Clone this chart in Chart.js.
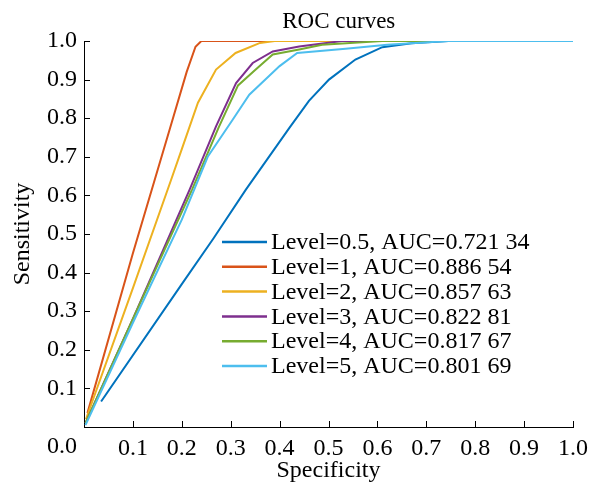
<!DOCTYPE html>
<html><head><meta charset="utf-8">
<script src="https://cdn.jsdelivr.net/npm/chart.js@4/dist/chart.umd.min.js"></script>
<style>html,body{margin:0;padding:0;background:#fff;}</style>
</head><body>
<canvas id="c" width="595" height="487"></canvas>
<script>
// Series labels
const seriesLabels = [
  'Level=0.5, AUC=0.721 34',
  'Level=1, AUC=0.886 54',
  'Level=2, AUC=0.857 63',
  'Level=3, AUC=0.822 81',
  'Level=4, AUC=0.817 67',
  'Level=5, AUC=0.801 69'
];
const seriesColors = ['#0072BD', '#D95319', '#EDB120', '#7E2F8E', '#77AC30', '#4DBEEE'];

// Specificity (x) and Sensitivity (y) values per series
const lvl05X = [0.035, 0.2, 0.265, 0.331, 0.42, 0.46, 0.501, 0.555, 0.61, 0.67, 0.745, 1.0];
const lvl05Y = [0.066, 0.37, 0.489, 0.615, 0.775, 0.845, 0.9, 0.952, 0.984, 0.994, 1.0, 1.0];
const lvl1X = [0.007, 0.1, 0.175, 0.21, 0.228, 0.24, 1.0];
const lvl1Y = [0.036, 0.45, 0.77, 0.92, 0.985, 1.0, 1.0];
const lvl2X = [0.004, 0.1, 0.178, 0.2, 0.233, 0.27, 0.31, 0.36, 0.39, 1.0];
const lvl2Y = [0.02, 0.36, 0.64, 0.72, 0.84, 0.926, 0.969, 0.995, 1.0, 1.0];
const lvl3X = [0.003, 0.1, 0.216, 0.27, 0.311, 0.345, 0.386, 0.44, 0.528, 1.0];
const lvl3Y = [0.01, 0.28, 0.615, 0.779, 0.891, 0.943, 0.973, 0.986, 1.0, 1.0];
const lvl4X = [0.003, 0.1, 0.221, 0.275, 0.315, 0.35, 0.386, 0.44, 0.487, 0.61, 1.0];
const lvl4Y = [0.01, 0.28, 0.615, 0.775, 0.885, 0.925, 0.965, 0.978, 0.99, 1.0, 1.0];
const lvl5X = [0.003, 0.1, 0.2, 0.253, 0.304, 0.338, 0.4, 0.436, 0.535, 0.62, 0.745, 1.0];
const lvl5Y = [0.005, 0.27, 0.537, 0.70, 0.796, 0.861, 0.935, 0.969, 0.98, 0.99, 1.0, 1.0];

// Tick values
const tickValues = [0, 0.1, 0.2, 0.3, 0.4, 0.5, 0.6, 0.7, 0.8, 0.9, 1.0];

const seriesX = [lvl05X, lvl1X, lvl2X, lvl3X, lvl4X, lvl5X];
const seriesY = [lvl05Y, lvl1Y, lvl2Y, lvl3Y, lvl4Y, lvl5Y];

const FONT = '"Liberation Serif", "Times New Roman", serif';

const datasets = seriesLabels.map((lab, i) => ({
  label: lab,
  data: seriesX[i].map((x, j) => ({x: x, y: seriesY[i][j]})),
  borderColor: seriesColors[i],
  backgroundColor: seriesColors[i],
  borderWidth: 2,
  pointRadius: 0,
  showLine: true,
  tension: 0,
  fill: false,
  order: seriesLabels.length - i
}));

const extras = {
  id: 'extras',
  afterDraw(chart) {
    const ctx = chart.ctx;
    const xs = chart.scales.x, ys = chart.scales.y;
    const ca = chart.chartArea;
    ctx.save();
    // inward ticks
    ctx.strokeStyle = '#000';
    ctx.lineWidth = 1;
    ctx.beginPath();
    tickValues.forEach(v => {
      if (v === 0) return;
      const px = Math.round(xs.getPixelForValue(v)) + 0.5;
      ctx.moveTo(px, ca.bottom);
      ctx.lineTo(px, ca.bottom - 6);
      const py = Math.round(ys.getPixelForValue(v)) + 0.5;
      ctx.moveTo(ca.left, py);
      ctx.lineTo(ca.left + 6, py);
    });
    ctx.stroke();
    // corner 0.0 label
    ctx.fillStyle = '#000';
    ctx.font = '24px ' + FONT;
    ctx.textAlign = 'right';
    ctx.textBaseline = 'middle';
    ctx.fillText('0.0', ca.left - 7, ca.bottom + 20);
    // title
    ctx.textAlign = 'center';
    ctx.font = '23px ' + FONT;
    ctx.fillText('ROC curves', ca.left + (ca.right - ca.left) * 0.521, ca.top - 19);
    // legend
    ctx.font = '24px ' + FONT;
    ctx.textAlign = 'left';
    const lx = ca.left + 138, ly = ca.top + 201, step = 24.8;
    chart.data.datasets.forEach((ds, i) => {
      const y = ly + i * step;
      ctx.strokeStyle = ds.borderColor;
      ctx.lineWidth = 2.5;
      ctx.beginPath();
      ctx.moveTo(lx, y);
      ctx.lineTo(lx + 45, y);
      ctx.stroke();
      ctx.fillStyle = '#000';
      ctx.fillText(ds.label, lx + 49, y + 1);
    });
    ctx.restore();
  }
};

new Chart(document.getElementById('c'), {
  type: 'scatter',
  data: { datasets: datasets },
  options: {
    responsive: false,
    animation: false,
    layout: { padding: { top: 41, right: 20, left: 0, bottom: 0 } },
    plugins: { legend: { display: false }, tooltip: { enabled: false }, title: { display: false } },
    scales: {
      x: {
        type: 'linear', min: 0, max: 1,
        afterFit: s => { s.height = 60; },
        afterBuildTicks: s => { s.ticks = tickValues.map(v => ({value: v})); },
        grid: { display: false, drawTicks: false },
        border: { display: true, color: '#000', width: 1 },
        ticks: { padding: 7, color: '#000', font: { family: FONT, size: 24 },
                 callback: v => v === 0 ? '' : v.toFixed(1), maxRotation: 0, autoSkip: false },
        title: { display: true, text: 'Specificity', color: '#000', font: { family: FONT, size: 24 },
                 padding: { top: 0, bottom: 2 } }
      },
      y: {
        type: 'linear', min: 0, max: 1,
        afterFit: s => { s.width = 84; },
        afterBuildTicks: s => { s.ticks = tickValues.map(v => ({value: v})); },
        grid: { display: false, drawTicks: false },
        border: { display: true, color: '#000', width: 1 },
        ticks: { padding: 7, color: '#000', font: { family: FONT, size: 24 },
                 callback: v => v === 0 ? '' : v.toFixed(1), autoSkip: false },
        title: { display: true, text: 'Sensitivity', color: '#000', font: { family: FONT, size: 24 },
                 padding: { top: 8, bottom: 0 } }
      }
    }
  },
  plugins: [extras]
});
</script>
</body></html>
